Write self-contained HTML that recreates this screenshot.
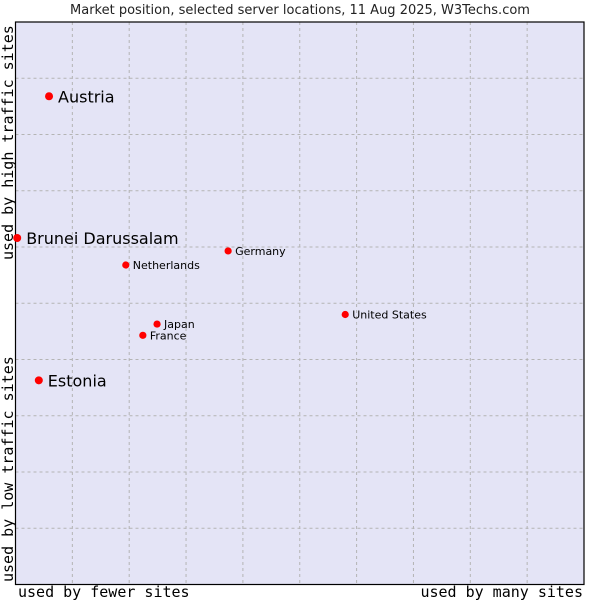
<!DOCTYPE html>
<html><head><meta charset="utf-8"><style>
body{margin:0;background:#fff}
svg{display:block}
text{font-family:"DejaVu Sans","Liberation Sans",sans-serif}
.mono{font-family:"DejaVu Sans Mono","Liberation Mono",monospace}
</style></head><body>
<svg id="chart" width="600" height="600">
<rect x="0" y="0" width="600" height="600" fill="#fff"/>
<text x="300" y="14" text-anchor="middle" font-size="13" fill="#222">Market position, selected server locations, 11 Aug 2025, W3Techs.com</text>
<rect x="15.5" y="22" width="568.5" height="562.5" fill="#e4e4f6"/>
<g id="grid"></g>
<rect x="15.5" y="22" width="568.5" height="562.5" fill="none" stroke="#000" stroke-width="1.2"/>
<g id="points"></g>
<text class="mono" x="18" y="597" font-size="15" fill="#000">used by fewer sites</text>
<text class="mono" x="583" y="597" font-size="15" text-anchor="end" fill="#000">used by many sites</text>
<text class="mono" transform="translate(13,582) rotate(-90)" font-size="15" fill="#000">used by low traffic sites</text>
<text class="mono" transform="translate(13,260) rotate(-90)" font-size="15" fill="#000">used by high traffic sites</text>
</svg>
<script>
const names = ["Austria","Brunei Darussalam","Germany","Netherlands","United States","Japan","France","Estonia"];
const xValues = [5.9, 0.3, 37.4, 19.4, 58.0, 24.9, 22.4, 4.1];
const yValues = [86.8, 61.6, 59.3, 56.8, 48.0, 46.3, 44.3, 36.3];
const bigLabel = [true, true, false, false, false, false, false, true];
const gridTicks = [10,20,30,40,50,60,70,80,90];

const L=15.5, R=584, T=22, B=584.5;
const xs = v => L + v/100*(R-L);
const ys = v => B - v/100*(B-T);
const NS="http://www.w3.org/2000/svg";
const grid=document.getElementById('grid');
gridTicks.forEach(t=>{
  const v=document.createElementNS(NS,'line');
  v.setAttribute('x1',xs(t));v.setAttribute('x2',xs(t));v.setAttribute('y1',T);v.setAttribute('y2',B);
  v.setAttribute('stroke','#b4b4b4');v.setAttribute('stroke-dasharray','3,3');
  
  
  grid.appendChild(v);
  const h=document.createElementNS(NS,'line');
  h.setAttribute('y1',ys(t));h.setAttribute('y2',ys(t));h.setAttribute('x1',L);h.setAttribute('x2',R);
  h.setAttribute('stroke','#b4b4b4');h.setAttribute('stroke-dasharray','3,3');
  
  
  grid.appendChild(h);
});
const pts=document.getElementById('points');
names.forEach((n,i)=>{
  const cx=xs(xValues[i]), cy=ys(yValues[i]);
  const d=document.createElementNS(NS,'circle');
  d.setAttribute('cx',cx);d.setAttribute('cy',cy);d.setAttribute('r',bigLabel[i]?4:3.6);d.setAttribute('fill','#f00');
  
  
  pts.appendChild(d);
  const t=document.createElementNS(NS,'text');
  t.setAttribute('x',cx+(bigLabel[i]?9:7));t.setAttribute('y',cy+(bigLabel[i]?6:4));
  t.setAttribute('font-size',bigLabel[i]?16:11);t.setAttribute('fill','#000');
  t.textContent=n;
  
  
  pts.appendChild(t);
});
</script>
</body></html>
